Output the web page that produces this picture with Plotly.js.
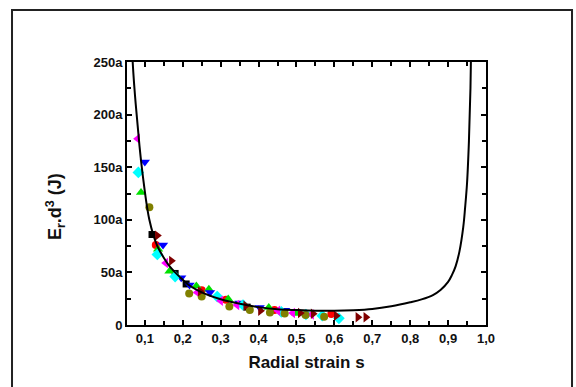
<!DOCTYPE html>
<html><head><meta charset="utf-8">
<script src="https://cdn.plot.ly/plotly-3.0.1.min.js"></script>
<style>html,body{margin:0;padding:0;background:#fff}#chart{width:576px;height:387px}</style>
</head><body><div id="chart"></div>
<script>
// Fitted curve
const curveS = [0.060,0.064,0.068,0.072,0.076,0.081,0.086,0.092,0.100,0.106,0.112,0.122,0.133,0.150,0.165,0.180,0.200,0.218,0.250,0.296,0.354,0.400,0.450,0.500,0.550,0.600,0.650,0.700,0.750,0.800,0.830,0.860,0.880,0.900,0.910,0.920,0.930,0.940,0.945,0.950,0.955,0.959,0.962,0.965];
const curveE = [330,285,250,228,210,190,170,150,127,112,100,86,75,64,56,50,43,37.5,31,25,20,17,15,14.2,13.6,13.5,14,15.2,17.8,21.6,24.4,28.5,33.3,41,47.4,56,70,93,112,135,175,225,290,370];

// Measured series
const blackS = [0.119,0.180,0.209,0.370];
const blackE = [86,49,39,17];
const redS = [0.129,0.250,0.314,0.442,0.592];
const redE = [76,33,24,14.2,10.4];
const greenS = [0.090,0.135,0.165,0.236,0.269,0.320,0.427,0.500];
const greenE = [126,72,51,37,34,24.6,16.7,11];
const blueS = [0.100,0.148,0.196,0.218,0.272,0.350,0.403,0.470];
const blueE = [155,76,45,38,31,21,16.7,14];
const cyanS = [0.083,0.133,0.180,0.291,0.359,0.460,0.525,0.568,0.612];
const cyanE = [145,67,46,27,19,12.5,10,8.8,6.3];
const magentaS = [0.081,0.155,0.238,0.300,0.343,0.451,0.490,0.540];
const magentaE = [177,59,31,23,19,13.6,11.4,10];
const oliveS = [0.112,0.217,0.250,0.323,0.377,0.430,0.469,0.524,0.573];
const oliveE = [112,30,27,17.7,14.2,12,11,9.5,7.9];
const wineS = [0.133,0.170,0.246,0.366,0.405,0.510,0.544,0.605,0.662,0.683];
const wineE = [85,61,32,18.3,13.6,11.4,10.7,8.8,7.3,7.3];

const xTickVals = [0.1,0.2,0.3,0.4,0.5,0.6,0.7,0.8,0.9,1.0];
const xTickText = ['0,1','0,2','0,3','0,4','0,5','0,6','0,7','0,8','0,9','1,0'];
const yTickVals = [0,50,100,150,200,250];
const yTickText = ['0','50a','100a','150a','200a','250a'];

function mk(s,e,color,symbol,size){
  return {x:s,y:e,type:'scatter',mode:'markers',
    marker:{color:color,symbol:symbol,size:size||8,line:{width:0}},showlegend:false,hoverinfo:'skip'};
}
const traces = [
  mk(blackS,blackE,'#000000','square',7),
  mk(redS,redE,'#ff0000','circle',8),
  mk(greenS,greenE,'#00e000','triangle-up',9),
  mk(blueS,blueE,'#0000ff','triangle-down',9),
  mk(cyanS,cyanE,'#00ffff','diamond',9),
  mk(magentaS,magentaE,'#ff00ff','triangle-left',9),
  mk(oliveS,oliveE,'#808000','circle',8),
  mk(wineS,wineE,'#800000','triangle-right',9),
  {x:curveS,y:curveE,type:'scatter',mode:'lines',line:{color:'#000',width:2,shape:'spline',smoothing:1},showlegend:false,hoverinfo:'skip'}
];

const fnt = {family:'Arial, "Liberation Sans", sans-serif', color:'#111', weight:700};
const layout = {
  width:576,height:387,
  margin:{l:127,r:90,t:62,b:62},
  paper_bgcolor:'#fff',plot_bgcolor:'#fff',
  showlegend:false,
  xaxis:{range:[0.053,1.0],showline:true,linecolor:'#000',linewidth:2,mirror:'ticks',
    ticks:'inside',ticklen:5,tickwidth:2,tickcolor:'#000',
    tickvals:xTickVals,ticktext:xTickText,showgrid:false,zeroline:false,
    tickfont:Object.assign({size:13},fnt),
    minor:{ticks:'inside',tickvals:[0.05,0.15,0.25,0.35,0.45,0.55,0.65,0.75,0.85,0.95],ticklen:4,tickwidth:2,tickcolor:'#000'},
    title:{text:'Radial strain s',font:Object.assign({size:17},fnt),standoff:12}},
  yaxis:{range:[0,250],showline:true,linecolor:'#000',linewidth:2,mirror:'ticks',
    ticks:'inside',ticklen:5,tickwidth:2,tickcolor:'#000',
    tickvals:yTickVals,ticktext:yTickText,showgrid:false,zeroline:false,
    tickfont:Object.assign({size:13},fnt),
    minor:{ticks:'inside',tickvals:[25,75,125,175,225],ticklen:4,tickwidth:2,tickcolor:'#000'}},
  annotations:[{xref:'paper',yref:'paper',x:-0.2006,y:0.452,showarrow:false,textangle:-90,
    text:'E<sub>r</sub>.d<sup>3</sup> (J)',font:Object.assign({size:18},fnt),xanchor:'center',yanchor:'middle'}],
  shapes:[{type:'rect',xref:'paper',yref:'paper',x0:-0.3203,x1:1.2396,y0:-0.35,y1:1.1977,
    line:{color:'#222',width:2},fillcolor:'rgba(0,0,0,0)',layer:'below'}]
};
Plotly.newPlot('chart',traces,layout,{displayModeBar:false,staticPlot:true});
</script></body></html>
